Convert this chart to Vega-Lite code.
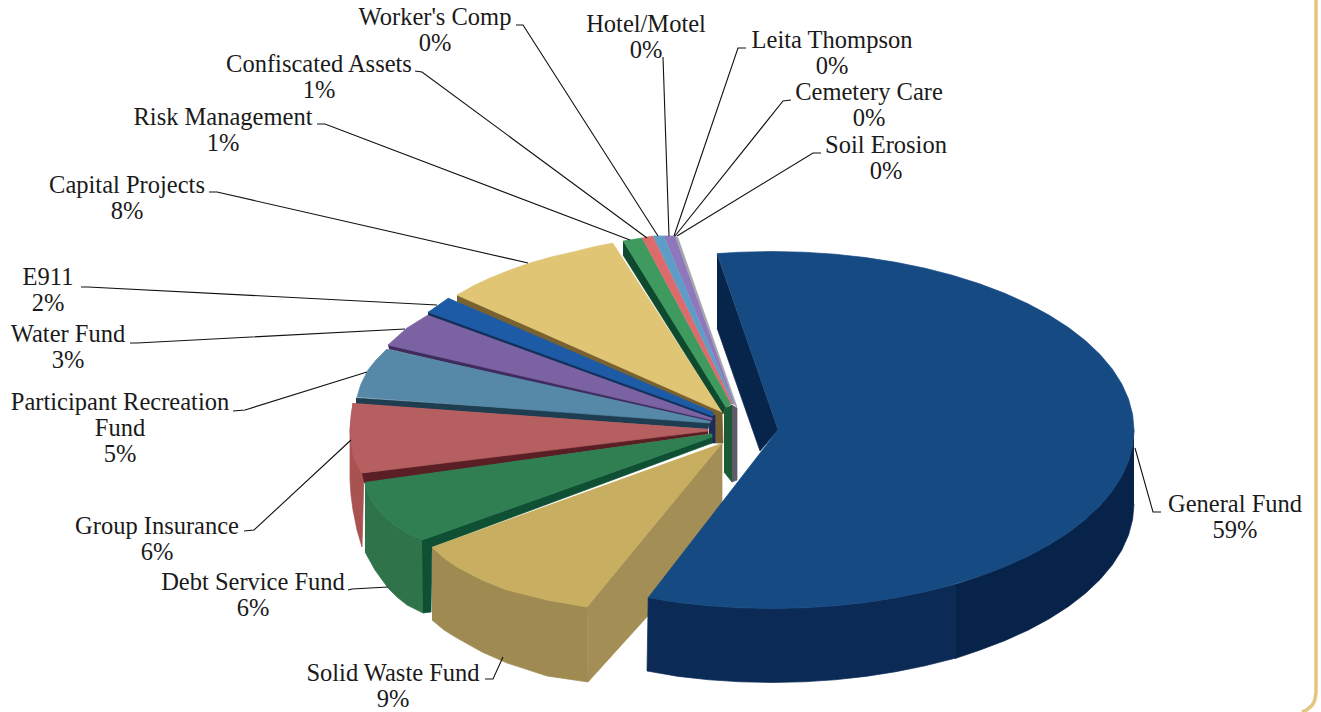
{
  "$schema": "https://vega.github.io/schema/vega-lite/v6.json",
  "autosize": {"type": "none"},
  "width": 1321,
  "height": 712,
  "padding": 0,
  "background": "white",
  "view": {"stroke": null},
  "datasets": {
    "faces": [
      {"face":"Risk wall","i":1,"x":623,"y":241},{"face":"Risk wall","i":2,"x":726,"y":407},{"face":"Risk wall","i":3,"x":723,"y":414},{"face":"Risk wall","i":4,"x":623,"y":255},
      {"face":"Risk top","i":1,"x":623,"y":241},{"face":"Risk top","i":2,"x":642,"y":238},{"face":"Risk top","i":3,"x":731,"y":404},{"face":"Risk top","i":4,"x":726,"y":408},
      {"face":"Confiscated top","i":1,"x":642,"y":238},{"face":"Confiscated top","i":2,"x":653,"y":236},{"face":"Confiscated top","i":3,"x":733,"y":404},{"face":"Confiscated top","i":4,"x":731,"y":404},
      {"face":"Workers top","i":1,"x":653,"y":236},{"face":"Workers top","i":2,"x":664,"y":236},{"face":"Workers top","i":3,"x":734,"y":404},{"face":"Workers top","i":4,"x":733,"y":404},
      {"face":"Hotel top","i":1,"x":664,"y":236},{"face":"Hotel top","i":2,"x":675,"y":236},{"face":"Hotel top","i":3,"x":735,"y":405},{"face":"Hotel top","i":4,"x":734,"y":404},
      {"face":"Soil rim","i":1,"x":675,"y":236},{"face":"Soil rim","i":2,"x":678,"y":238},{"face":"Soil rim","i":3,"x":737,"y":407},{"face":"Soil rim","i":4,"x":735,"y":405},
      {"face":"Risk edge","i":1,"x":724,"y":409},{"face":"Risk edge","i":2,"x":732,"y":405},{"face":"Risk edge","i":3,"x":732,"y":482},{"face":"Risk edge","i":4,"x":724,"y":472},
      {"face":"Soil edge","i":1,"x":732,"y":405},{"face":"Soil edge","i":2,"x":737,"y":408},{"face":"Soil edge","i":3,"x":737,"y":480},{"face":"Soil edge","i":4,"x":732,"y":482},

      {"face":"Capital wall","i":1,"x":457,"y":295},{"face":"Capital wall","i":2,"x":722,"y":412},{"face":"Capital wall","i":3,"x":723,"y":443},{"face":"Capital wall","i":4,"x":715,"y":443},{"face":"Capital wall","i":5,"x":713,"y":418},{"face":"Capital wall","i":6,"x":457,"y":302},
      {"face":"Capital top","i":1,"x":613,"y":243},{"face":"Capital top","i":2,"x":593,"y":247},{"face":"Capital top","i":3,"x":573,"y":252},{"face":"Capital top","i":4,"x":551,"y":257},{"face":"Capital top","i":5,"x":530,"y":263},{"face":"Capital top","i":6,"x":510,"y":270},{"face":"Capital top","i":7,"x":490,"y":278},{"face":"Capital top","i":8,"x":473,"y":286},{"face":"Capital top","i":9,"x":457,"y":295},{"face":"Capital top","i":10,"x":722,"y":412},
      {"face":"Apex","i":1,"x":709,"y":417},{"face":"Apex","i":2,"x":715,"y":415},{"face":"Apex","i":3,"x":715,"y":443},{"face":"Apex","i":4,"x":709,"y":443},

      {"face":"E911 wall","i":1,"x":428,"y":312},{"face":"E911 wall","i":2,"x":713,"y":414},{"face":"E911 wall","i":3,"x":713,"y":420},{"face":"E911 wall","i":4,"x":428,"y":316},
      {"face":"E911 top","i":1,"x":448,"y":298},{"face":"E911 top","i":2,"x":457,"y":302},{"face":"E911 top","i":3,"x":713,"y":412},{"face":"E911 top","i":4,"x":713,"y":416},{"face":"E911 top","i":5,"x":428,"y":312},

      {"face":"Water wall","i":1,"x":388,"y":345},{"face":"Water wall","i":2,"x":712,"y":418},{"face":"Water wall","i":3,"x":710,"y":424},{"face":"Water wall","i":4,"x":389,"y":349},
      {"face":"Water top","i":1,"x":428,"y":315},{"face":"Water top","i":2,"x":407,"y":328},{"face":"Water top","i":3,"x":388,"y":345},{"face":"Water top","i":4,"x":712,"y":420},{"face":"Water top","i":5,"x":712,"y":418},

      {"face":"Participant wall","i":1,"x":356,"y":398},{"face":"Participant wall","i":2,"x":710,"y":421},{"face":"Participant wall","i":3,"x":708,"y":429},{"face":"Participant wall","i":4,"x":356,"y":404},
      {"face":"Participant top","i":1,"x":387,"y":349},{"face":"Participant top","i":2,"x":376,"y":360},{"face":"Participant top","i":3,"x":368,"y":370},{"face":"Participant top","i":4,"x":361,"y":384},{"face":"Participant top","i":5,"x":357,"y":397},{"face":"Participant top","i":6,"x":710,"y":423},{"face":"Participant top","i":7,"x":710,"y":421},

      {"face":"Group side","i":1,"x":353,"y":403},{"face":"Group side","i":2,"x":350,"y":430},{"face":"Group side","i":3,"x":350,"y":480},{"face":"Group side","i":4,"x":351,"y":495},{"face":"Group side","i":5,"x":353,"y":510},{"face":"Group side","i":6,"x":357,"y":530},{"face":"Group side","i":7,"x":362,"y":547},{"face":"Group side","i":8,"x":364,"y":473},
      {"face":"Group wall","i":1,"x":362,"y":473},{"face":"Group wall","i":2,"x":708,"y":430},{"face":"Group wall","i":3,"x":708,"y":434},{"face":"Group wall","i":4,"x":364,"y":483},
      {"face":"Group top","i":1,"x":353,"y":403},{"face":"Group top","i":2,"x":351,"y":416},{"face":"Group top","i":3,"x":350,"y":430},{"face":"Group top","i":4,"x":351,"y":443},{"face":"Group top","i":5,"x":353,"y":455},{"face":"Group top","i":6,"x":357,"y":465},{"face":"Group top","i":7,"x":362,"y":473},{"face":"Group top","i":8,"x":708,"y":431},{"face":"Group top","i":9,"x":708,"y":429},

      {"face":"Debt side","i":1,"x":365,"y":482},{"face":"Debt side","i":2,"x":368,"y":493},{"face":"Debt side","i":3,"x":373,"y":503},{"face":"Debt side","i":4,"x":384,"y":516},{"face":"Debt side","i":5,"x":397,"y":527},{"face":"Debt side","i":6,"x":409,"y":534},{"face":"Debt side","i":7,"x":423,"y":540},{"face":"Debt side","i":8,"x":423,"y":613},{"face":"Debt side","i":9,"x":407,"y":605},{"face":"Debt side","i":10,"x":397,"y":597},{"face":"Debt side","i":11,"x":388,"y":588},{"face":"Debt side","i":12,"x":375,"y":570},{"face":"Debt side","i":13,"x":365,"y":552},
      {"face":"Debt wall","i":1,"x":422,"y":540},{"face":"Debt wall","i":2,"x":712,"y":437},{"face":"Debt wall","i":3,"x":712,"y":443},{"face":"Debt wall","i":4,"x":432,"y":547},{"face":"Debt wall","i":5,"x":431,"y":612},{"face":"Debt wall","i":6,"x":423,"y":613},
      {"face":"Debt top","i":1,"x":365,"y":482},{"face":"Debt top","i":2,"x":368,"y":493},{"face":"Debt top","i":3,"x":373,"y":503},{"face":"Debt top","i":4,"x":384,"y":516},{"face":"Debt top","i":5,"x":397,"y":527},{"face":"Debt top","i":6,"x":409,"y":534},{"face":"Debt top","i":7,"x":422,"y":540},{"face":"Debt top","i":8,"x":712,"y":437},{"face":"Debt top","i":9,"x":712,"y":433.5},

      {"face":"Solid inner","i":1,"x":587,"y":607},{"face":"Solid inner","i":2,"x":722,"y":443},{"face":"Solid inner","i":3,"x":722,"y":534},{"face":"Solid inner","i":4,"x":588,"y":682},
      {"face":"Solid side","i":1,"x":432,"y":547},{"face":"Solid side","i":2,"x":444,"y":558},{"face":"Solid side","i":3,"x":457,"y":567},{"face":"Solid side","i":4,"x":482,"y":580},{"face":"Solid side","i":5,"x":507,"y":590},{"face":"Solid side","i":6,"x":547,"y":600},{"face":"Solid side","i":7,"x":587,"y":607},{"face":"Solid side","i":8,"x":588,"y":682},{"face":"Solid side","i":9,"x":547,"y":676},{"face":"Solid side","i":10,"x":507,"y":663},{"face":"Solid side","i":11,"x":482,"y":652},{"face":"Solid side","i":12,"x":457,"y":638},{"face":"Solid side","i":13,"x":444,"y":630},{"face":"Solid side","i":14,"x":432,"y":620},
      {"face":"Solid top","i":1,"x":432,"y":547},{"face":"Solid top","i":2,"x":444,"y":558},{"face":"Solid top","i":3,"x":457,"y":567},{"face":"Solid top","i":4,"x":482,"y":580},{"face":"Solid top","i":5,"x":507,"y":590},{"face":"Solid top","i":6,"x":547,"y":600},{"face":"Solid top","i":7,"x":587,"y":607},{"face":"Solid top","i":8,"x":722,"y":443},

      {"face":"General inner","i":1,"x":717,"y":254},{"face":"General inner","i":2,"x":778,"y":430},{"face":"General inner","i":3,"x":760,"y":451},{"face":"General inner","i":4,"x":717,"y":328},

      {"face":"General side far","i":1,"x":1134,"y":430},{"face":"General side far","i":2,"x":1132.6,"y":445.6},{"face":"General side far","i":3,"x":1128.5,"y":461},{"face":"General side far","i":4,"x":1121.7,"y":476.2},{"face":"General side far","i":5,"x":1112.2,"y":491.1},{"face":"General side far","i":6,"x":1100.1,"y":505.4},{"face":"General side far","i":7,"x":1085.5,"y":519.3},{"face":"General side far","i":8,"x":1068.5,"y":532.4},{"face":"General side far","i":9,"x":1049.3,"y":544.7},{"face":"General side far","i":10,"x":1028,"y":556.2},{"face":"General side far","i":11,"x":1004.7,"y":566.7},{"face":"General side far","i":12,"x":979.6,"y":576.2},{"face":"General side far","i":13,"x":955,"y":584.6},{"face":"General side far","i":14,"x":955,"y":658.6},{"face":"General side far","i":15,"x":979.6,"y":650.2},{"face":"General side far","i":16,"x":1004.7,"y":640.7},{"face":"General side far","i":17,"x":1028,"y":630.2},{"face":"General side far","i":18,"x":1049.3,"y":618.7},{"face":"General side far","i":19,"x":1068.5,"y":606.4},{"face":"General side far","i":20,"x":1085.5,"y":593.3},{"face":"General side far","i":21,"x":1100.1,"y":579.4},{"face":"General side far","i":22,"x":1112.2,"y":565.1},{"face":"General side far","i":23,"x":1121.7,"y":550.2},{"face":"General side far","i":24,"x":1128.5,"y":535},{"face":"General side far","i":25,"x":1132.6,"y":519.6},{"face":"General side far","i":26,"x":1134,"y":504},

      {"face":"General side near","i":1,"x":956,"y":584},{"face":"General side near","i":2,"x":925,"y":591.8},{"face":"General side near","i":3,"x":895.8,"y":597.7},{"face":"General side near","i":4,"x":865.7,"y":602.4},{"face":"General side near","i":5,"x":834.9,"y":605.8},{"face":"General side near","i":6,"x":803.6,"y":607.8},{"face":"General side near","i":7,"x":772,"y":608.5},{"face":"General side near","i":8,"x":740.4,"y":607.8},{"face":"General side near","i":9,"x":709.1,"y":605.8},{"face":"General side near","i":10,"x":678.3,"y":602.4},{"face":"General side near","i":11,"x":648.2,"y":597.7},{"face":"General side near","i":12,"x":647,"y":671},{"face":"General side near","i":13,"x":678.3,"y":676.4},{"face":"General side near","i":14,"x":709.1,"y":679.8},{"face":"General side near","i":15,"x":740.4,"y":681.8},{"face":"General side near","i":16,"x":772,"y":682.5},{"face":"General side near","i":17,"x":803.6,"y":681.8},{"face":"General side near","i":18,"x":834.9,"y":679.8},{"face":"General side near","i":19,"x":865.7,"y":676.4},{"face":"General side near","i":20,"x":895.8,"y":671.7},{"face":"General side near","i":21,"x":925,"y":665.8},{"face":"General side near","i":22,"x":956,"y":658},

      {"face":"General top","i":1,"x":717,"y":253.6},{"face":"General top","i":2,"x":740.4,"y":252.2},{"face":"General top","i":3,"x":772,"y":251.5},{"face":"General top","i":4,"x":803.6,"y":252.2},{"face":"General top","i":5,"x":834.9,"y":254.2},{"face":"General top","i":6,"x":865.7,"y":257.6},{"face":"General top","i":7,"x":895.8,"y":262.3},{"face":"General top","i":8,"x":925,"y":268.2},{"face":"General top","i":9,"x":953,"y":275.4},{"face":"General top","i":10,"x":979.6,"y":283.8},{"face":"General top","i":11,"x":1004.7,"y":293.3},{"face":"General top","i":12,"x":1028,"y":303.8},{"face":"General top","i":13,"x":1049.3,"y":315.3},{"face":"General top","i":14,"x":1068.5,"y":327.6},{"face":"General top","i":15,"x":1085.5,"y":340.7},{"face":"General top","i":16,"x":1100.1,"y":354.6},{"face":"General top","i":17,"x":1112.2,"y":368.9},{"face":"General top","i":18,"x":1121.7,"y":383.8},{"face":"General top","i":19,"x":1128.5,"y":399},{"face":"General top","i":20,"x":1132.6,"y":414.4},{"face":"General top","i":21,"x":1134,"y":430},{"face":"General top","i":22,"x":1132.6,"y":445.6},{"face":"General top","i":23,"x":1128.5,"y":461},{"face":"General top","i":24,"x":1121.7,"y":476.2},{"face":"General top","i":25,"x":1112.2,"y":491.1},{"face":"General top","i":26,"x":1100.1,"y":505.4},{"face":"General top","i":27,"x":1085.5,"y":519.3},{"face":"General top","i":28,"x":1068.5,"y":532.4},{"face":"General top","i":29,"x":1049.3,"y":544.7},{"face":"General top","i":30,"x":1028,"y":556.2},{"face":"General top","i":31,"x":1004.7,"y":566.7},{"face":"General top","i":32,"x":979.6,"y":576.2},{"face":"General top","i":33,"x":953,"y":584.6},{"face":"General top","i":34,"x":925,"y":591.8},{"face":"General top","i":35,"x":895.8,"y":597.7},{"face":"General top","i":36,"x":865.7,"y":602.4},{"face":"General top","i":37,"x":834.9,"y":605.8},{"face":"General top","i":38,"x":803.6,"y":607.8},{"face":"General top","i":39,"x":772,"y":608.5},{"face":"General top","i":40,"x":740.4,"y":607.8},{"face":"General top","i":41,"x":709.1,"y":605.8},{"face":"General top","i":42,"x":678.3,"y":602.4},{"face":"General top","i":43,"x":648.2,"y":597.7},{"face":"General top","i":44,"x":778,"y":430}
    ],
    "leaders": [
      {"fund":"Worker's Comp","i":1,"x":516,"y":25},{"fund":"Worker's Comp","i":2,"x":523,"y":25},{"fund":"Worker's Comp","i":3,"x":658,"y":236},
      {"fund":"Hotel/Motel","i":1,"x":663,"y":57},{"fund":"Hotel/Motel","i":2,"x":669,"y":236},
      {"fund":"Leita Thompson","i":1,"x":746,"y":48},{"fund":"Leita Thompson","i":2,"x":738,"y":48},{"fund":"Leita Thompson","i":3,"x":674,"y":236},
      {"fund":"Cemetery Care","i":1,"x":791,"y":100},{"fund":"Cemetery Care","i":2,"x":783,"y":101},{"fund":"Cemetery Care","i":3,"x":675,"y":236},
      {"fund":"Soil Erosion","i":1,"x":821,"y":153},{"fund":"Soil Erosion","i":2,"x":813,"y":153},{"fund":"Soil Erosion","i":3,"x":677,"y":236},
      {"fund":"Confiscated Assets","i":1,"x":415,"y":71},{"fund":"Confiscated Assets","i":2,"x":422,"y":72},{"fund":"Confiscated Assets","i":3,"x":647,"y":238},
      {"fund":"Risk Management","i":1,"x":317,"y":124},{"fund":"Risk Management","i":2,"x":325,"y":124},{"fund":"Risk Management","i":3,"x":630,"y":240},
      {"fund":"Capital Projects","i":1,"x":209,"y":192},{"fund":"Capital Projects","i":2,"x":217,"y":192},{"fund":"Capital Projects","i":3,"x":528,"y":263},
      {"fund":"E911","i":1,"x":81,"y":287},{"fund":"E911","i":2,"x":88,"y":287},{"fund":"E911","i":3,"x":437,"y":305},
      {"fund":"Water Fund","i":1,"x":130,"y":343},{"fund":"Water Fund","i":2,"x":137,"y":343},{"fund":"Water Fund","i":3,"x":405,"y":329},
      {"fund":"Participant Recreation Fund","i":1,"x":233,"y":411},{"fund":"Participant Recreation Fund","i":2,"x":245,"y":410},{"fund":"Participant Recreation Fund","i":3,"x":367,"y":372},
      {"fund":"Group Insurance","i":1,"x":244,"y":531},{"fund":"Group Insurance","i":2,"x":254,"y":530},{"fund":"Group Insurance","i":3,"x":351,"y":440},
      {"fund":"Debt Service Fund","i":1,"x":348,"y":590},{"fund":"Debt Service Fund","i":2,"x":352,"y":589},{"fund":"Debt Service Fund","i":3,"x":388,"y":587},
      {"fund":"Solid Waste Fund","i":1,"x":485,"y":679},{"fund":"Solid Waste Fund","i":2,"x":493,"y":679},{"fund":"Solid Waste Fund","i":3,"x":503,"y":657},
      {"fund":"General Fund","i":1,"x":1135,"y":448},{"fund":"General Fund","i":2,"x":1153,"y":512},{"fund":"General Fund","i":3,"x":1161,"y":512}
    ],
    "labels": [
      {"fund":"General Fund","share":59,"label":"General Fund\n59%","x":1235,"y":512},
      {"fund":"Solid Waste Fund","share":9,"label":"Solid Waste Fund\n9%","x":393,"y":681},
      {"fund":"Debt Service Fund","share":6,"label":"Debt Service Fund\n6%","x":253,"y":590},
      {"fund":"Group Insurance","share":6,"label":"Group Insurance\n6%","x":157,"y":534},
      {"fund":"Participant Recreation Fund","share":5,"label":"Participant Recreation\nFund\n5%","x":120,"y":410},
      {"fund":"Water Fund","share":3,"label":"Water Fund\n3%","x":68,"y":342},
      {"fund":"E911","share":2,"label":"E911\n2%","x":48,"y":285},
      {"fund":"Capital Projects","share":8,"label":"Capital Projects\n8%","x":127,"y":193},
      {"fund":"Risk Management","share":1,"label":"Risk Management\n1%","x":223,"y":125},
      {"fund":"Confiscated Assets","share":1,"label":"Confiscated Assets\n1%","x":319,"y":72},
      {"fund":"Worker's Comp","share":0,"label":"Worker's Comp\n0%","x":435,"y":25},
      {"fund":"Hotel/Motel","share":0,"label":"Hotel/Motel\n0%","x":646,"y":32},
      {"fund":"Leita Thompson","share":0,"label":"Leita Thompson\n0%","x":832,"y":48},
      {"fund":"Cemetery Care","share":0,"label":"Cemetery Care\n0%","x":869,"y":100},
      {"fund":"Soil Erosion","share":0,"label":"Soil Erosion\n0%","x":886,"y":153}
    ],
    "frame": [
      {"i":1,"x":1316,"y":0},{"i":2,"x":1316,"y":692},{"i":3,"x":1314,"y":702},{"i":4,"x":1309,"y":708},{"i":5,"x":1302,"y":712}
    ]
  },
  "encoding": {
    "x": {"field": "x", "type": "quantitative", "axis": null, "scale": {"domain": [0, 1321], "nice": false, "zero": false}},
    "y": {"field": "y", "type": "quantitative", "axis": null, "scale": {"domain": [712, 0], "nice": false, "zero": false}}
  },
  "layer": [
    {
      "data": {"name": "faces"},
      "mark": {"type": "line", "filled": true, "interpolate": "linear", "strokeWidth": 0.7},
      "encoding": {
        "detail": {"field": "face"},
        "order": {"field": "i", "type": "quantitative"},
        "fill": {
          "field": "face", "type": "nominal", "legend": null, "sort": null,
          "scale": {
            "domain": ["Risk wall","Risk top","Confiscated top","Workers top","Hotel top","Soil rim","Risk edge","Soil edge","Capital wall","Capital top","Apex","E911 wall","E911 top","Water wall","Water top","Participant wall","Participant top","Group side","Group wall","Group top","Debt side","Debt wall","Debt top","Solid inner","Solid side","Solid top","General inner","General side far","General side near","General top"],
            "range": ["#0f4a2e","#3f9a5f","#dd6b6b","#5f9dc9","#8e78bb","#a3a3ab","#1a5a35","#5f5a6a","#7a6230","#e0c574","#1d2c5c","#12305c","#1d5ba6","#3f2c5c","#7b62a3","#1f3d50","#5688a8","#a95252","#5a1f24","#b55f60","#2e7349","#0f5034","#2f7f52","#a38e55","#9f8b52","#c8ae60","#07244a","#07234a","#0b2b56","#164a83"]
          }
        },
        "stroke": {
          "field": "face", "type": "nominal", "legend": null, "sort": null,
          "scale": {
            "domain": ["Risk wall","Risk top","Confiscated top","Workers top","Hotel top","Soil rim","Risk edge","Soil edge","Capital wall","Capital top","Apex","E911 wall","E911 top","Water wall","Water top","Participant wall","Participant top","Group side","Group wall","Group top","Debt side","Debt wall","Debt top","Solid inner","Solid side","Solid top","General inner","General side far","General side near","General top"],
            "range": ["#0f4a2e","#3f9a5f","#dd6b6b","#5f9dc9","#8e78bb","#a3a3ab","#1a5a35","#5f5a6a","#7a6230","#e0c574","#1d2c5c","#12305c","#1d5ba6","#3f2c5c","#7b62a3","#1f3d50","#5688a8","#a95252","#5a1f24","#b55f60","#2e7349","#0f5034","#2f7f52","#a38e55","#9f8b52","#c8ae60","#07244a","#07234a","#0b2b56","#164a83"]
          }
        }
      }
    },
    {
      "data": {"name": "leaders"},
      "mark": {"type": "line", "color": "#111111", "strokeWidth": 1.1, "interpolate": "linear"},
      "encoding": {
        "detail": {"field": "fund"},
        "order": {"field": "i", "type": "quantitative"}
      }
    },
    {
      "data": {"name": "labels"},
      "mark": {"type": "text", "font": "Liberation Serif", "fontSize": 24.5, "lineBreak": "\n", "lineHeight": 26, "align": "center", "baseline": "alphabetic", "color": "#1a1a1a"},
      "encoding": {
        "text": {"field": "label"}
      }
    },
    {
      "data": {"name": "frame"},
      "mark": {"type": "line", "color": "#e3c77f", "strokeWidth": 3.5, "interpolate": "monotone"},
      "encoding": {
        "order": {"field": "i", "type": "quantitative"}
      }
    }
  ]
}
